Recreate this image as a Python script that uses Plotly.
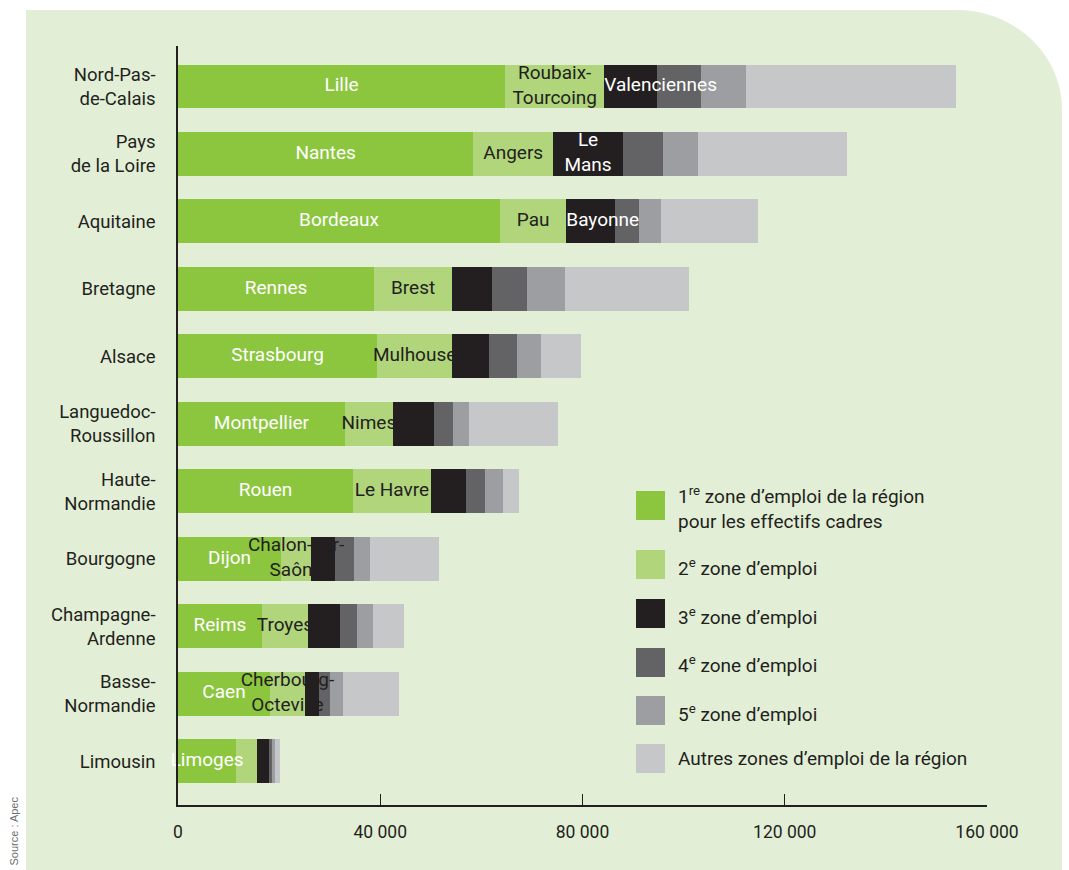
import plotly.graph_objects as go

# ---------------- data ----------------
regions = ["Nord-Pas-<br>de-Calais", "Pays<br>de la Loire", "Aquitaine", "Bretagne", "Alsace",
           "Languedoc-<br>Roussillon", "Haute-<br>Normandie", "Bourgogne", "Champagne-<br>Ardenne",
           "Basse-<br>Normandie", "Limousin"]

zone1 = [64700, 58400, 63700, 38800, 39400, 33000, 34600, 20400, 16600, 18200, 11500]
zone2 = [19600, 15800, 13100, 15400, 14800, 9500, 15400, 5900, 9100, 6900, 4200]
zone3 = [10500, 13800, 9700, 7900, 7300, 8100, 6900, 4700, 6300, 2800, 2200]
zone4 = [8700, 7900, 4700, 6900, 5500, 3800, 3800, 3800, 3400, 2200, 600]
zone5 = [8900, 6900, 4300, 7500, 4700, 3200, 3600, 3200, 3200, 2600, 600]
autres = [41500, 29500, 19200, 24500, 8100, 17600, 3200, 13600, 6100, 11100, 1000]

labels1 = ["Lille", "Nantes", "Bordeaux", "Rennes", "Strasbourg", "Montpellier", "Rouen",
           "Dijon", "Reims", "Caen", "Limoges"]
labels2 = ["Roubaix-<br>Tourcoing", "Angers", "Pau", "Brest", "Mulhouse", "Nimes", "Le Havre",
           "Chalon-sur-<br>Saône", "Troyes", "Cherbourg-<br>Octeville", ""]
labels3 = ["Valenciennes", "Le<br>Mans", "Bayonne", "", "", "", "", "", "", "", ""]
# long 3rd-zone names start at the segment's left edge instead of being centred
labels3_left = [True, False, True, False, False, False, False, False, False, False, False]

series_names = ["1<sup>re</sup> zone d’emploi de la région<br>pour les effectifs cadres",
                "2<sup>e</sup> zone d’emploi", "3<sup>e</sup> zone d’emploi",
                "4<sup>e</sup> zone d’emploi", "5<sup>e</sup> zone d’emploi",
                "Autres zones d’emploi de la région"]

x_tickvals = [0, 40000, 80000, 120000, 160000]
x_ticktext = ["0", "40 000", "80 000", "120 000", "160 000"]

# ---------------- style ----------------
colors = ["#8cc63f", "#b0d57b", "#231f20", "#636365", "#9d9ea2", "#c6c7c9"]
BG = "#e2efd6"
DARK = "#231f20"
FONT = "Roboto"

series = [zone1, zone2, zone3, zone4, zone5, autres]

fig = go.Figure()
for vals, col, name in zip(series, colors, series_names):
    fig.add_trace(go.Bar(
        y=regions, x=vals, orientation="h", name=name,
        marker=dict(color=col, line=dict(width=0)),
        width=0.65, showlegend=False, hoverinfo="skip"))

# segment label positions computed from the data
starts = [0] * len(regions)
mids, lefts = [], []
for vals in series:
    lefts.append(list(starts))
    mids.append([s + v / 2 for s, v in zip(starts, vals)])
    starts = [s + v for s, v in zip(starts, vals)]

x3 = [lf if flag else m for lf, m, flag in zip(lefts[2], mids[2], labels3_left)]
pos3 = ["middle right" if flag else "middle center" for flag in labels3_left]

for labs, xs, pos, col in [(labels1, mids[0], "middle center", "white"),
                           (labels2, mids[1], "middle center", DARK),
                           (labels3, x3, pos3, "white")]:
    fig.add_trace(go.Scatter(
        y=regions, x=xs, text=labs, mode="text", textposition=pos,
        textfont=dict(family=FONT, size=19, color=col),
        showlegend=False, hoverinfo="skip", cliponaxis=False))

# ---------------- layout ----------------
L, R, T, B = 178, 82, 46, 65
W, H = 1069, 870
pw, ph = W - L - R, H - T - B


def px_x(px):
    return (px - L) / pw


def px_y(py):
    return (H - B - py) / ph


shapes = []
# background panel with rounded top-right corner
x0, x1 = px_x(26), px_x(1062)
yt, yb = px_y(10), px_y(880)
xc, yc = px_x(957), px_y(110)
k = 0.552
path = (f"M {x0},{yb} L {x0},{yt} L {xc},{yt} "
        f"C {xc + k * (x1 - xc)},{yt} {x1},{yc + k * (yt - yc)} {x1},{yc} "
        f"L {x1},{yb} Z")
shapes.append(dict(type="path", path=path, xref="paper", yref="paper",
                   fillcolor=BG, line=dict(width=0), layer="below"))

annotations = []
# custom legend
leg_sq_top = [491, 550, 599, 648, 696, 744]
leg_text_y = [508, 567, 616, 664, 713, 758]
for i, (col, name) in enumerate(zip(colors, series_names)):
    shapes.append(dict(type="rect", xref="paper", yref="paper",
                       x0=px_x(636), x1=px_x(665),
                       y0=px_y(leg_sq_top[i] + 29), y1=px_y(leg_sq_top[i]),
                       fillcolor=col, line=dict(width=0)))
    annotations.append(dict(xref="paper", yref="paper", x=px_x(676), y=px_y(leg_text_y[i]),
                            text=name, showarrow=False, xanchor="left", yanchor="middle",
                            align="left", font=dict(family=FONT, size=19, color=DARK)))

annotations.append(dict(xref="paper", yref="paper", x=px_x(13), y=px_y(868),
                        text="Source : Apec", showarrow=False, textangle=-90,
                        xanchor="center", yanchor="bottom",
                        font=dict(family="Liberation Sans", size=11, color="#6d6e71")))

fig.update_layout(
    barmode="stack",
    width=W, height=H,
    margin=dict(l=L, r=R, t=T, b=B, pad=0),
    paper_bgcolor="white",
    plot_bgcolor="rgba(0,0,0,0)",
    font=dict(family=FONT, size=17, color=DARK),
    shapes=shapes,
    annotations=annotations,
    xaxis=dict(range=[0, 160000], tickvals=x_tickvals, ticktext=x_ticktext,
               showgrid=False, zeroline=False, showline=True, linecolor=DARK, linewidth=1.5,
               ticks="inside", ticklen=11, tickcolor=DARK, tickwidth=1.2,
               ticklabelstandoff=10, tickfont=dict(family=FONT, size=17.5, color=DARK)),
    yaxis=dict(type="category", categoryorder="array", categoryarray=regions,
               range=[10.65, -0.6], showgrid=False, zeroline=False,
               showline=True, linecolor=DARK, linewidth=1.5, ticks="",
               ticklabelstandoff=17, tickfont=dict(family=FONT, size=18.5, color=DARK)),
)

fig.write_html("out.html")
